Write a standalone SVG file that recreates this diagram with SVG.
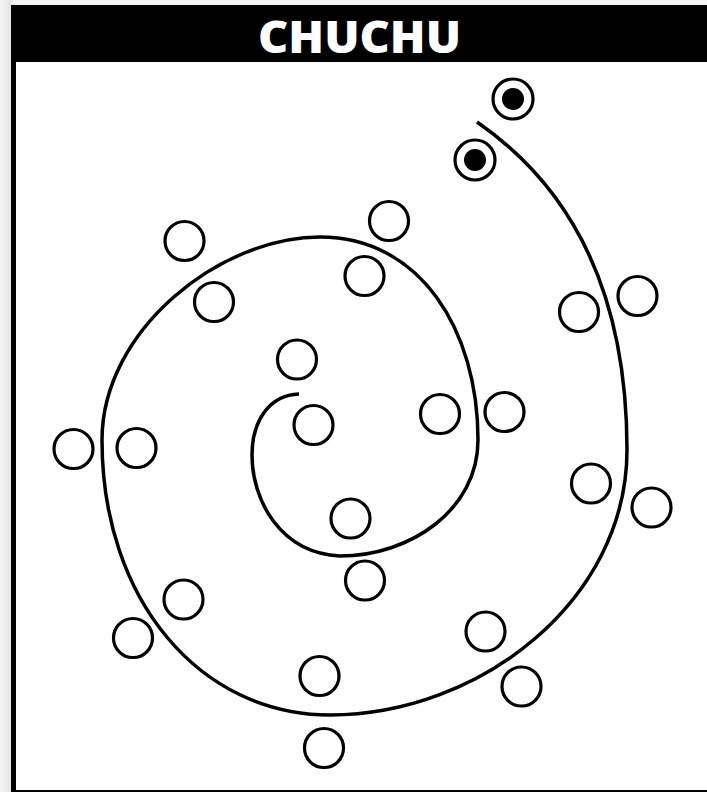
<svg xmlns="http://www.w3.org/2000/svg" width="707" height="792" viewBox="0 0 707 792">
<defs>
<linearGradient id="sh" x1="0" y1="0" x2="1" y2="0">
<stop offset="0" stop-color="#f6f6f6"/>
<stop offset="1" stop-color="#e2e2e2"/>
</linearGradient>
<style>
.c{fill:#fff;stroke:#000;stroke-width:3.2}
.d{fill:#000}
.sp{fill:none;stroke:#000;stroke-width:3.5;stroke-linecap:butt}
.t{font-family:"Open Sans","DejaVu Sans",sans-serif;font-weight:800;font-size:44px;fill:#fff}
</style>
</defs>
<rect x="0" y="0" width="707" height="792" fill="#f3f3f3"/>
<rect x="0" y="0" width="12" height="792" fill="url(#sh)"/>
<rect x="13.5" y="7.5" width="800" height="785" fill="#fff" stroke="#000" stroke-width="5"/>
<g id="header">
<rect x="11" y="5" width="700" height="57" fill="#000"/>
<text class="t" x="359.5" y="52.5" text-anchor="middle" textLength="203" lengthAdjust="spacingAndGlyphs">CHUCHU</text>
</g>
<g id="connectors">
<path class="sp" d="M299,394 C270,395 252,420 252,455 C252,500 280,553 340,556 C410,556 478,510 478,440 C478,330 420,237 320,237 C220,237 102,330 102,440 C102,600 200,715 330,715 C480,715 627,600 627,450 C627,320 590,200 477,122"/>
</g>
<g id="n1"><circle class="c" cx="513" cy="99" r="20"/><circle class="d" cx="513" cy="99" r="11"/></g>
<g id="n2"><circle class="c" cx="475" cy="160" r="20"/><circle class="d" cx="475" cy="160" r="11"/></g>
<g id="n3"><circle class="c" cx="389" cy="221" r="19.5"/></g>
<g id="n4"><circle class="c" cx="184.5" cy="241" r="19.5"/></g>
<g id="n5"><circle class="c" cx="364.5" cy="276" r="19.5"/></g>
<g id="n6"><circle class="c" cx="214" cy="302" r="19.5"/></g>
<g id="n7"><circle class="c" cx="637.5" cy="296" r="19.5"/></g>
<g id="n8"><circle class="c" cx="579" cy="312" r="19.5"/></g>
<g id="n9"><circle class="c" cx="297" cy="359.5" r="19.5"/></g>
<g id="n10"><circle class="c" cx="313.5" cy="425" r="19.5"/></g>
<g id="n11"><circle class="c" cx="440" cy="414" r="19.5"/></g>
<g id="n12"><circle class="c" cx="504.5" cy="412" r="19.5"/></g>
<g id="n13"><circle class="c" cx="73.5" cy="449" r="19.5"/></g>
<g id="n14"><circle class="c" cx="136.5" cy="448" r="19.5"/></g>
<g id="n15"><circle class="c" cx="591" cy="483.5" r="19.5"/></g>
<g id="n16"><circle class="c" cx="651.5" cy="507.5" r="19.5"/></g>
<g id="n17"><circle class="c" cx="350.5" cy="518.5" r="19.5"/></g>
<g id="n18"><circle class="c" cx="365" cy="580.5" r="19.5"/></g>
<g id="n19"><circle class="c" cx="183.5" cy="599.5" r="19.5"/></g>
<g id="n20"><circle class="c" cx="133" cy="638" r="19.5"/></g>
<g id="n21"><circle class="c" cx="485.5" cy="631.5" r="19.5"/></g>
<g id="n22"><circle class="c" cx="521.5" cy="686.5" r="19.5"/></g>
<g id="n23"><circle class="c" cx="319.5" cy="676" r="19.5"/></g>
<g id="n24"><circle class="c" cx="324" cy="748" r="19.5"/></g>
</svg>
